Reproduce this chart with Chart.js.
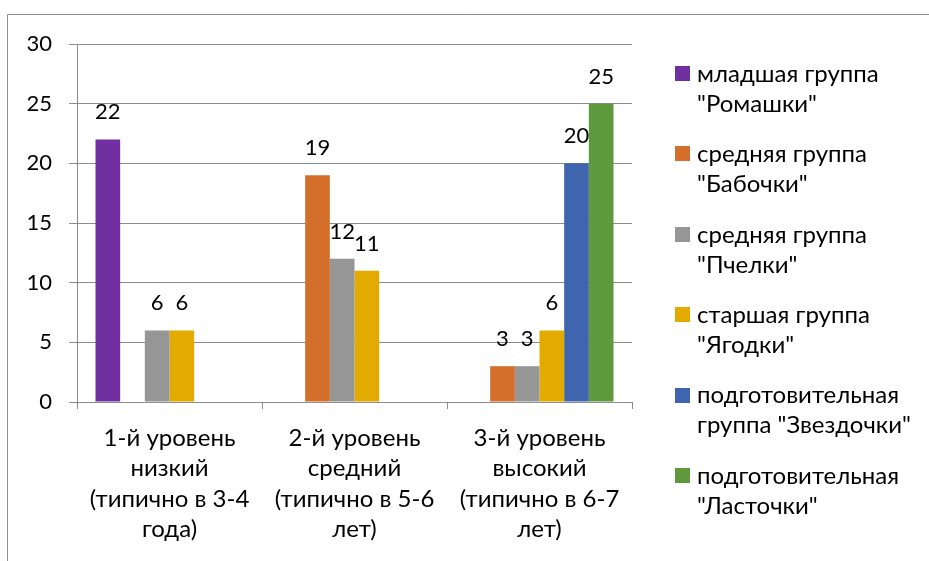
<!DOCTYPE html>
<html>
<head>
<meta charset="utf-8">
<script src="https://cdn.jsdelivr.net/npm/chart.js@4/dist/chart.umd.min.js"></script>
<style>
  html, body { margin: 0; padding: 0; background: #fff; }
  #wrap { width: 929px; height: 561px; }
</style>
</head>
<body>
<div id="wrap"><canvas id="chart"></canvas></div>
<script>
// данные
const categories = [
    ['1-й уровень', 'низкий', '(типично в 3-4', 'года)'],
    ['2-й уровень', 'средний', '(типично в 5-6', 'лет)'],
    ['3-й уровень', 'высокий', '(типично в 6-7', 'лет)']
];
const seriesNames = [
    ['младшая группа', '"Ромашки"'],
    ['средняя группа', '"Бабочки"'],
    ['средняя группа', '"Пчелки"'],
    ['старшая группа', '"Ягодки"'],
    ['подготовительная', 'группа "Звездочки"'],
    ['подготовительная', '"Ласточки"']
];
const romashki   = [22, null, null];
const babochki   = [null, 19, 3];
const pchelki    = [6, 12, 3];
const yagodki    = [6, 11, 6];
const zvezdochki = [null, null, 20];
const lastochki  = [null, null, 25];
const yTicks = [0, 5, 10, 15, 20, 25, 30];

const seriesValues = [romashki, babochki, pchelki, yagodki, zvezdochki, lastochki];
const seriesColors = ['#7030A0', '#D46E2B', '#969696', '#E3AA00', '#3E65AD', '#5F993D'];

const FONT = 'Lato, "Open Sans", sans-serif';
const TEXT_SIZE = 24;   // подписи категорий и легенда
const NUM_SIZE = 22;    // цифры
const gridColor = '#8C8C8C';

// рамка
const framePlugin = {
    id: 'frame',
    beforeDraw(chart) {
        const c = chart.ctx;
        c.save();
        c.fillStyle = '#fff';
        c.fillRect(0, 0, chart.width, chart.height);
        c.strokeStyle = '#8E8E8E';
        c.lineWidth = 1;
        c.beginPath();
        c.moveTo(7.5, chart.height);
        c.lineTo(7.5, 14.5);
        c.lineTo(chart.width, 14.5);
        c.stroke();
        c.restore();
    }
};

// подписи значений
const valueLabels = {
    id: 'valueLabels',
    afterDatasetsDraw(chart) {
        const c = chart.ctx;
        c.save();
        c.font = NUM_SIZE + 'px ' + FONT;
        c.fillStyle = '#000';
        c.textAlign = 'center';
        c.textBaseline = 'alphabetic';
        chart.data.datasets.forEach((ds, i) => {
            const meta = chart.getDatasetMeta(i);
            meta.data.forEach((bar, j) => {
                const v = ds.data[j];
                if (v === null || v === undefined) return;
                c.fillText(String(v), bar.x, bar.y - 20);
            });
        });
        c.restore();
    }
};

// легенда справа
const sideLegend = {
    id: 'sideLegend',
    afterDraw(chart) {
        const c = chart.ctx;
        c.save();
        c.font = TEXT_SIZE + 'px ' + FONT;
        c.textBaseline = 'middle';
        c.textAlign = 'left';
        chart.data.datasets.forEach((ds, i) => {
            const y0 = 73 + i * 80.4;
            c.fillStyle = ds.backgroundColor;
            c.fillRect(675, Math.round(y0 - 7), 15, 15);
            c.fillStyle = '#000';
            ds.label.forEach((line, k) => {
                c.fillText(line, 697, y0 + 1 + k * 30);
            });
        });
        c.restore();
    }
};

const ctx = document.getElementById('chart').getContext('2d');
const chart = new Chart(ctx, {
    type: 'bar',
    data: {
        labels: categories,
        datasets: seriesValues.map((vals, i) => ({
            label: seriesNames[i],
            data: vals,
            backgroundColor: seriesColors[i],
            borderWidth: 0,
            categoryPercentage: 0.8,
            barPercentage: 1.0
        }))
    },
    options: {
        responsive: true,
        maintainAspectRatio: false,
        animation: false,
        layout: { padding: { top: 44, right: 297, left: 0, bottom: 0 } },
        plugins: {
            legend: { display: false },
            tooltip: { enabled: false },
            title: { display: false }
        },
        scales: {
            x: {
                grid: {
                    display: true,
                    drawOnChartArea: false,
                    drawTicks: true,
                    tickLength: 7,
                    color: gridColor,
                    offset: true
                },
                border: { display: true, color: gridColor },
                ticks: {
                    color: '#000',
                    font: { family: FONT, size: TEXT_SIZE, lineHeight: 1.27 },
                    maxRotation: 0,
                    autoSkip: false,
                    padding: 14
                },
                afterFit(scale) { scale.height = 159; }
            },
            y: {
                min: 0,
                max: 30,
                afterBuildTicks(scale) { scale.ticks = yTicks.map(v => ({ value: v })); },
                grid: {
                    color: gridColor,
                    drawTicks: true,
                    tickLength: 8
                },
                border: { display: true, color: gridColor },
                ticks: {
                    color: '#000',
                    font: { family: FONT, size: NUM_SIZE },
                    padding: 17
                },
                afterFit(scale) { scale.width = 77; }
            }
        }
    },
    plugins: [framePlugin, valueLabels, sideLegend]
});
</script>
</body>
</html>
